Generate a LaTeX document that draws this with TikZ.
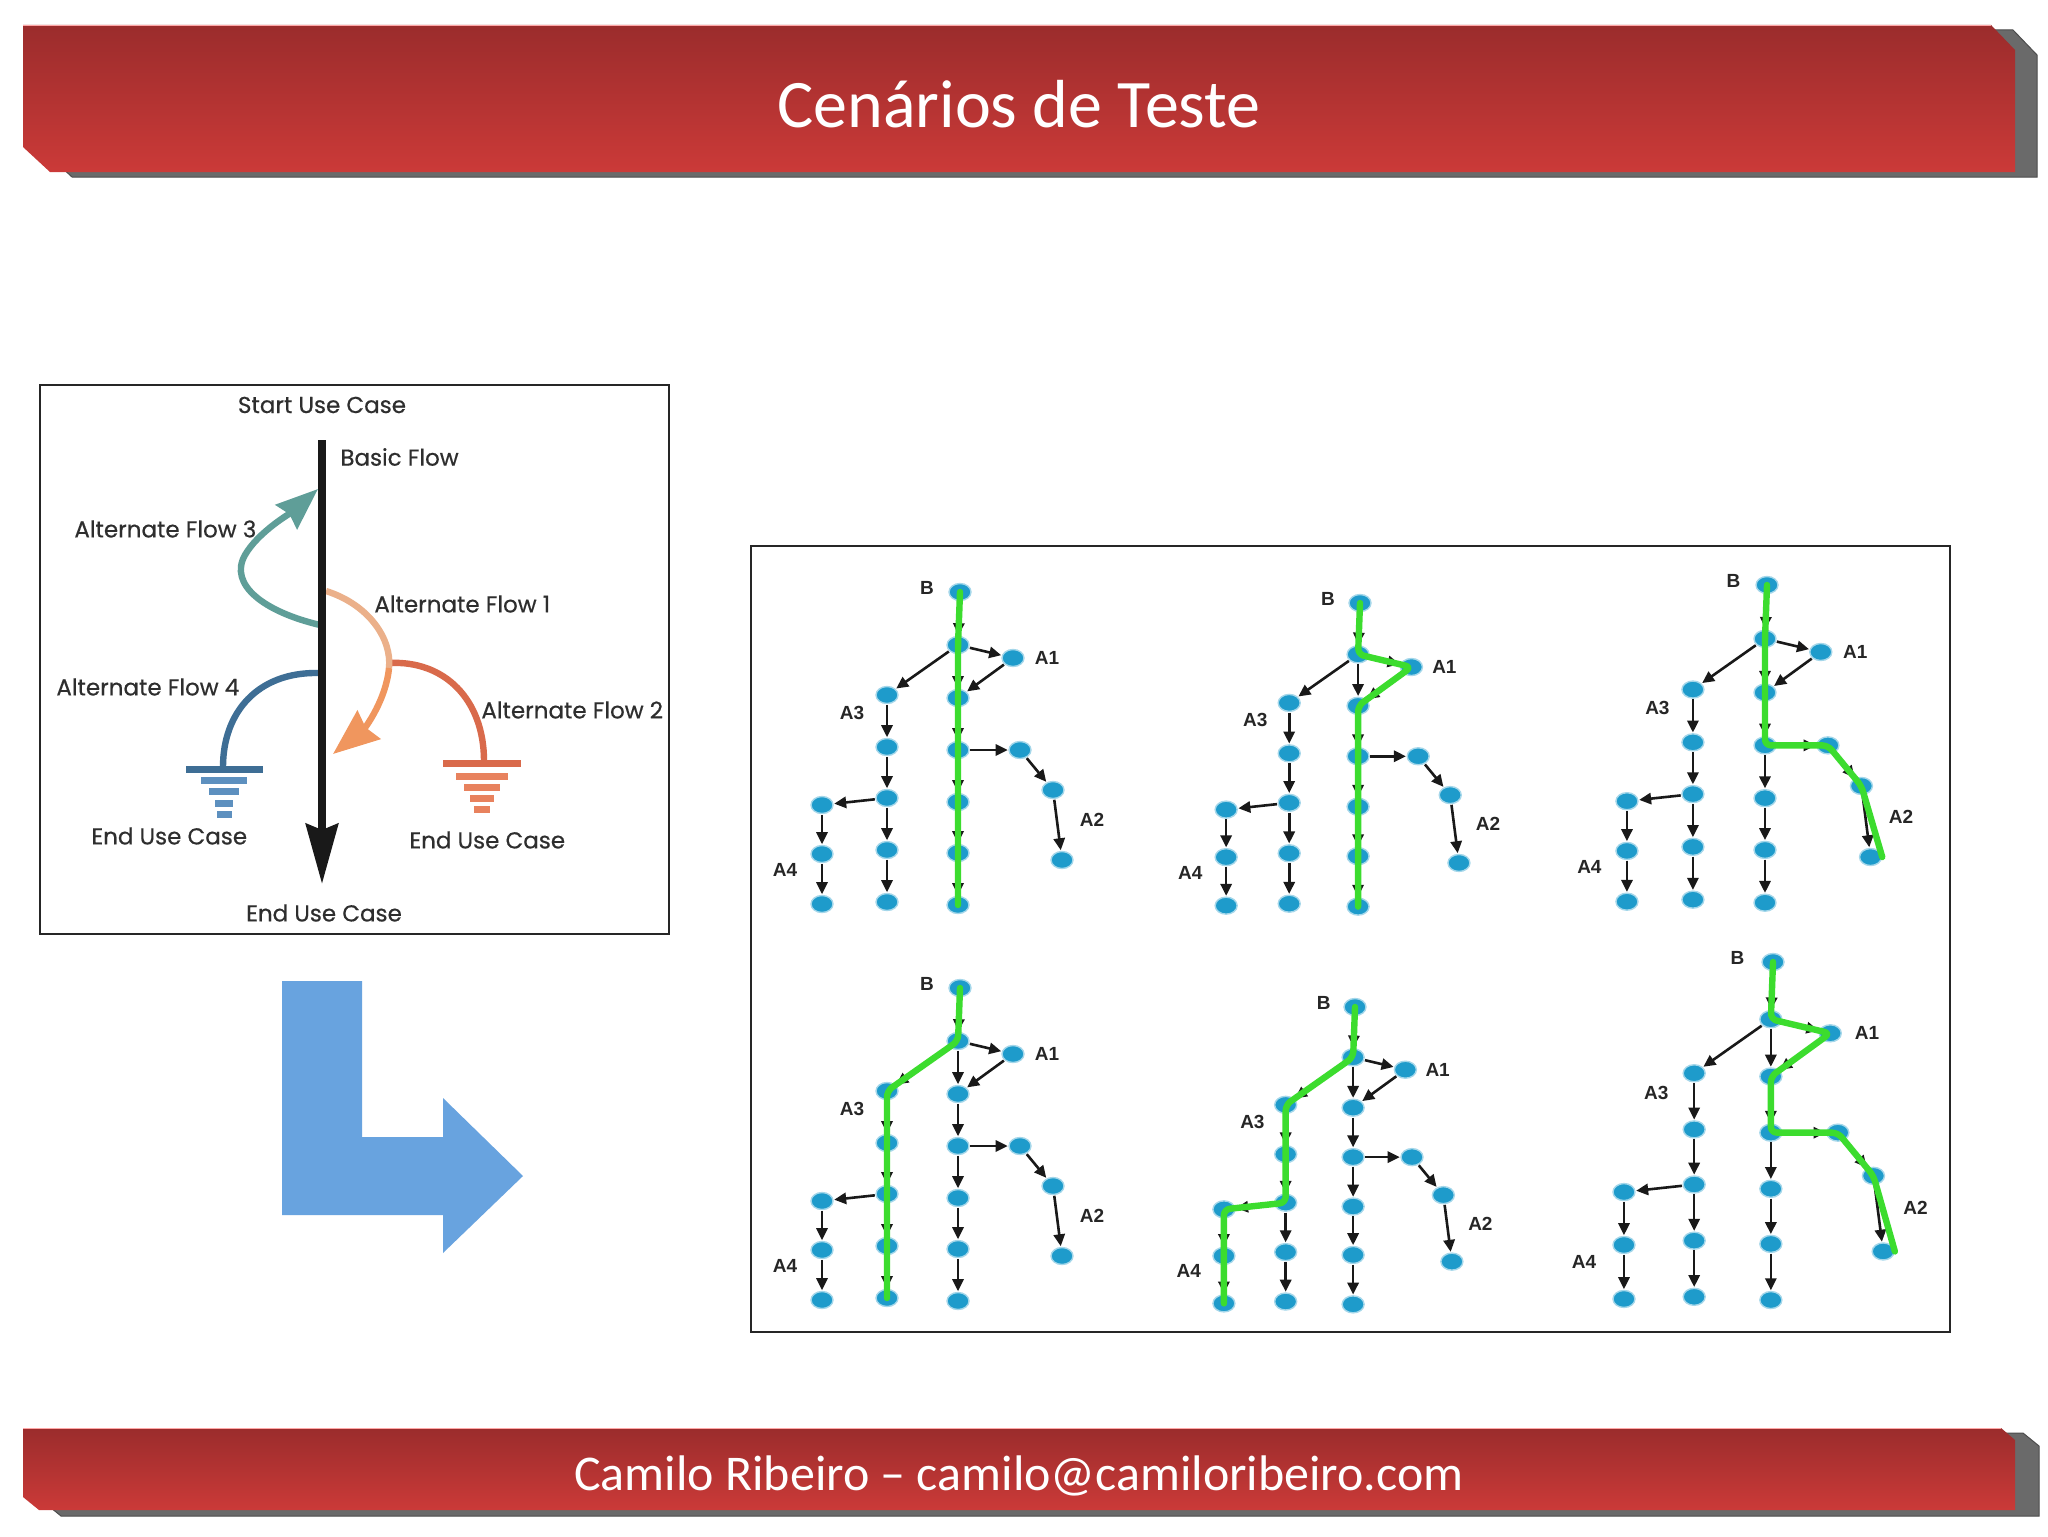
\documentclass[tikz,border=0pt]{standalone}
\usepackage{fontspec}
\setmainfont{Carlito}
\newfontfamily\gothic{Poppins}[FakeBold=0.5]
\newfontfamily\arialf{Liberation Sans}
\usetikzlibrary{arrows.meta,shapes.geometric}
\definecolor{hdrtop}{HTML}{9B2C2C}
\definecolor{hdrbot}{HTML}{CB3A38}
\definecolor{shad}{HTML}{6A6A6A}
\definecolor{nodeblue}{HTML}{1E9BCB}
\definecolor{pathgreen}{HTML}{3CDC2E}
\definecolor{lblue}{HTML}{68A3DF}
\definecolor{teal3}{HTML}{5F9E98}
\definecolor{peach1}{HTML}{EBB08A}
\definecolor{peach2}{HTML}{F0965E}
\definecolor{orange2}{HTML}{D96A4B}
\definecolor{orange2l}{HTML}{E8825E}
\definecolor{blue4}{HTML}{3E6E95}
\definecolor{blue4l}{HTML}{5D90BF}
\definecolor{txtgray}{HTML}{2E2E2E}

\newcommand{\gtree}[4]{%
\begin{scope}[shift={(#2,#3)},scale=#4]
\node[gn] (#1B) at (0,0) {};
\node[gn] (#1m1) at (-2,53) {};
\node[gn] (#1m2) at (-2,106) {};
\node[gn] (#1m3) at (-2,158) {};
\node[gn] (#1m4) at (-2,210) {};
\node[gn] (#1m5) at (-2,261) {};
\node[gn] (#1m6) at (-2,313) {};
\node[gn] (#1a1) at (53,66) {};
\node[gn] (#1a31) at (-73,103) {};
\node[gn] (#1a32) at (-73,155) {};
\node[gn] (#1a33) at (-73,206) {};
\node[gn] (#1a34) at (-73,258) {};
\node[gn] (#1a35) at (-73,310) {};
\node[gn] (#1a41) at (-138,213) {};
\node[gn] (#1a42) at (-138,262) {};
\node[gn] (#1a43) at (-138,312) {};
\node[gn] (#1a21) at (60,158) {};
\node[gn] (#1a22) at (93,198) {};
\node[gn] (#1a23) at (102,268) {};
\node[glab] (#1lB) at (-33,-4) {B};
\node[glab] (#1lA1) at (87,66) {A1};
\node[glab] (#1lA3) at (-108,121) {A3};
\node[glab] (#1lA2) at (132,228) {A2};
\node[glab] (#1lA4) at (-175,278) {A4};
\end{scope}
\foreach \ea/\eb in {B/m1,m1/m2,m2/m3,m3/m4,m4/m5,m5/m6,m1/a1,a1/m2,m1/a31,a31/a32,a32/a33,a33/a34,a34/a35,a33/a41,a41/a42,a42/a43,m3/a21,a21/a22,a22/a23}
  {\draw[ga] (#1\ea) -- (#1\eb);}
}

\begin{document}
\begin{tikzpicture}[x=0.5pt,y=-0.5pt,
  gn/.style={ellipse, fill=nodeblue, draw=nodeblue!40, line width=0.7pt, minimum width=11pt, minimum height=8.5pt, inner sep=0pt},
  ga/.style={draw=black!90, line width=1.3pt, -{Triangle[length=6pt,width=5.6pt]}, shorten >=0.3pt, shorten <=0.3pt},
  gp/.style={draw=pathgreen, line width=3.2pt, line join=round, line cap=round, rounded corners=3pt},
  glab/.style={font=\arialf\bfseries\fontsize{9.5}{10}\selectfont, text=black!85, inner sep=0pt},
  lab/.style={font=\gothic\fontsize{11.5}{13}\selectfont, text=txtgray, inner sep=0pt},
  panel/.style={draw=black!85, line width=1pt},
  hbar/.style={shade, top color=hdrtop, bottom color=hdrbot},
  shadowbar/.style={fill=shad, draw=black!70, line width=0.5pt}
]
\useasboundingbox (0,0) rectangle (2048,1536);
\fill[white] (0,0) rectangle (2048,1536);

% header
\path[shadowbar] (45,30) -- (2013,30) -- (2037,55) -- (2037,177) -- (72,177) -- (45,152) -- cycle;
\path[hbar] (23,25) -- (1991,25) -- (2015,50) -- (2015,172) -- (50,172) -- (23,147) -- cycle;
\draw[red!35!white, line width=0.6pt] (23,25.5) -- (1991,25.5);
\node[font=\fontsize{34}{40}\selectfont, text=white, anchor=base] (title) at (1019,127) {Cenários de Teste};

% footer
\path[shadowbar] (45,1433) -- (2023,1433) -- (2039,1446) -- (2039,1516) -- (61,1516) -- (45,1503) -- cycle;
\path[hbar] (23,1428) -- (2001,1428) -- (2015,1440) -- (2015,1510) -- (39,1510) -- (23,1497) -- cycle;
\draw[red!35!white, line width=0.6pt] (23,1428.5) -- (2001,1428.5);
\node[font=\fontsize{25}{30}\selectfont, text=white, anchor=base] (footer) at (1019,1490) {Camilo Ribeiro – camilo@camiloribeiro.com};

% left panel
\draw[panel] (40,385) rectangle (669,934);
\coordinate (bfs) at (322,440);
\coordinate (bfe) at (322,884);
\coordinate (af3s) at (320,625);
\coordinate (af3e) at (318,489);
\coordinate (af1s) at (326,591);
\coordinate (af1m) at (389,668);
\coordinate (af1e) at (333,754);
\coordinate (af2s) at (389,663);
\coordinate (af2e) at (484,761);
\coordinate (af4s) at (318,673);
\coordinate (af4e) at (223,767);

\draw[teal3, line width=3.2pt, -{Stealth[length=21pt,width=16pt,inset=2pt]}]
  (af3s) .. controls (265,612) and (228,585) .. (245,555) .. controls (258,532) and (292,512) .. (af3e);
\draw[orange2, line width=3.2pt] (af2s) .. controls (445,660) and (484,700) .. (af2e);
\draw[peach1, line width=3.2pt] (af1s) .. controls (370,605) and (392,640) .. (af1m);
\draw[peach2, line width=3.2pt, -{Stealth[length=23pt,width=18pt,inset=2pt]}]
  (af1m) .. controls (386,700) and (365,728) .. (af1e);
\draw[blue4, line width=3.2pt] (af4s) .. controls (258,672) and (223,712) .. (af4e);
\draw[black!90, line width=4pt, -{Stealth[length=30pt,width=16pt,inset=3pt]}] (bfs) -- (bfe);

% ground symbols
\fill[orange2] (443,759.5) rectangle (521,766.5);
\fill[orange2l] (456,772.5) rectangle (508,779.5);
\fill[orange2l] (464,783.5) rectangle (500,790.5);
\fill[orange2l] (470,794.5) rectangle (494,801.5);
\fill[orange2l] (474,805.5) rectangle (490,812.5);
\fill[blue4] (186,765.5) rectangle (263,772.5);
\fill[blue4l] (201,776.5) rectangle (247,783.5);
\fill[blue4l] (209,787.5) rectangle (239,794.5);
\fill[blue4l] (215,799.5) rectangle (233,806.5);
\fill[blue4l] (217,810.5) rectangle (232,817.5);

\node[lab] (tstart) at (322,405) {Start Use Case};
\node[lab, anchor=west] (tbasic) at (340,457) {Basic Flow};
\node[lab, anchor=west] (taf3) at (74,529) {Alternate Flow 3};
\node[lab, anchor=west] (taf1) at (374,604) {Alternate Flow 1};
\node[lab, anchor=west] (taf4) at (56,687) {Alternate Flow 4};
\node[lab, anchor=west] (taf2) at (481,710) {Alternate Flow 2};
\node[lab, anchor=west] (tend4) at (91,836) {End Use Case};
\node[lab, anchor=west] (tend2) at (409,840) {End Use Case};
\node[lab] (tendb) at (324,913) {End Use Case};

% L arrow
\fill[lblue] (282,981) -- (362,981) -- (362,1137) -- (443,1137) -- (443,1098) -- (523,1176) -- (443,1253) -- (443,1215) -- (282,1215) -- cycle;

% right panel
\draw[panel] (751,546) rectangle (1950,1332);
\gtree{a}{960}{592}{1.0}
\gtree{b}{1360}{603}{0.97}
\gtree{c}{1767}{585}{1.015}
\gtree{d}{960}{988}{1.0}
\gtree{e}{1355}{1007}{0.95}
\gtree{f}{1773}{962}{1.08}

\draw[gp] (aB.center) -- (am1.center) -- (am2.center) -- (am3.center) -- (am4.center) -- (am5.center) -- (am6.center);
\draw[gp] (bB.center) -- (bm1.center) -- (ba1.center) -- (bm2.center) -- (bm3.center) -- (bm4.center) -- (bm5.center) -- (bm6.center);
\draw[gp] (cB.center) -- (cm1.center) -- (cm2.center) -- (cm3.center) -- (ca21.center) -- (ca22.center) -- (ca23.east);
\draw[gp] (dB.center) -- (dm1.center) -- (da31.center) -- (da32.center) -- (da33.center) -- (da34.center) -- (da35.center);
\draw[gp] (eB.center) -- (em1.center) -- (ea31.center) -- (ea32.center) -- (ea33.center) -- (ea41.center) -- (ea42.center) -- (ea43.center);
\draw[gp] (fB.center) -- (fm1.center) -- (fa1.center) -- (fm2.center) -- (fm3.center) -- (fa21.center) -- (fa22.center) -- (fa23.east);
\end{tikzpicture}
\end{document}
